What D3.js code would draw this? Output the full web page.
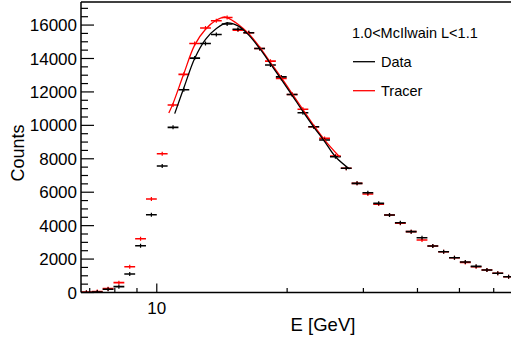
<!DOCTYPE html>
<html>
<head>
<meta charset="utf-8">
<script src="https://cdn.jsdelivr.net/npm/d3@7"></script>
<style>
  html, body { margin: 0; padding: 0; background: #fff; }
  svg { display: block; font-family: "Liberation Sans", Arial, Helvetica, sans-serif; }
</style>
</head>
<body>
<svg id="chart" width="511" height="339"></svg>
<script>
// ---- Data ----
const binEdges = [6.683, 7.079, 7.499, 7.943, 8.414, 8.913, 9.441, 10.000, 10.593, 11.220,
  11.885, 12.589, 13.335, 14.125, 14.962, 15.849, 16.788, 17.783, 18.836, 19.953,
  21.135, 22.387, 23.714, 25.119, 26.607, 28.184, 29.854, 31.623, 33.497, 35.481,
  37.584, 39.811, 42.170, 44.668, 47.315, 50.119, 53.088, 56.234, 59.566, 63.096, 66.834];

const dataCounts = [0, 30, 190, 350, 1105, 2800, 4655, 7570, 9880, 12130,
  14025, 14900, 15440, 16060, 15750, 15540, 14600, 13610, 12900, 11850,
  10755, 9920, 9120, 8120, 7430, 6530, 5970, 5335, 4635, 4175,
  3640, 3280, 2780, 2440, 2080, 1825, 1565, 1345, 1150, 945];

const tracerCounts = [20, 60, 230, 590, 1545, 3220, 5590, 8300, 11215, 13050,
  14900, 15820, 16260, 16450, 15700, 15540, 14600, 13840, 12810, 11850,
  10960, 9920, 9220, 8160, 7430, 6530, 5890, 5290, 4635, 4140,
  3640, 3140, 2780, 2440, 2080, 1800, 1545, 1345, 1150, 945];

// fitted curves (energy, counts)
const dataFitE = [11.0, 11.55, 12.23, 12.96, 13.73, 14.54, 15.40, 16.31, 17.28, 18.31, 19.39, 20.54, 21.76, 23.05, 24.42, 25.86, 27.86];
const dataFitC = [10700, 12250, 14000, 15150, 15800, 16130, 15950, 15400, 14600, 13680, 12750, 11800, 10820, 9900, 9030, 8120, 7390];

const tracerFitE = [10.66, 10.90, 11.55, 12.23, 12.96, 13.73, 14.30, 14.54, 15.40, 16.31, 17.28, 18.31, 19.39, 20.54, 21.76, 23.05, 24.42, 26.42];
const tracerFitC = [10740, 11300, 13100, 14800, 15750, 16300, 16480, 16450, 16050, 15480, 14680, 13760, 12850, 11900, 10940, 9990, 9120, 8120];

const yTickValues = [0, 2000, 4000, 6000, 8000, 10000, 12000, 14000, 16000];
const xMajorTicks = [10];
const xMinorTicks = [7, 8, 9, 20, 30, 40, 50, 60];

const legendTitle = "1.0<McIlwain L<1.1";
const seriesNames = ["Data", "Tracer"];
const seriesColors = ["#000000", "#ff0000"];
const xTitle = "E [GeV]";
const yTitle = "Counts";

// ---- Layout ----
(function () {
const svg = d3.select("#chart");
const pL = 81, pR = 514, pT = 2, pB = 292.5;
const x = d3.scaleLog().domain([binEdges[0], binEdges[binEdges.length - 1]]).range([pL, pR]);
const y = d3.scaleLinear().domain([0, 17380]).range([pB, pT]);

svg.append("defs").append("clipPath").attr("id", "clip")
  .append("rect").attr("x", pL).attr("y", pT).attr("width", 511 - pL).attr("height", pB - pT);

const plot = svg.append("g").attr("clip-path", "url(#clip)");

function drawPoints(counts, color) {
  const g = plot.append("g");
  counts.forEach((c, i) => {
    const lo = binEdges[i], hi = binEdges[i + 1];
    const xc = x(Math.sqrt(lo * hi));
    g.append("line")
      .attr("x1", x(lo)).attr("x2", x(hi))
      .attr("y1", y(c)).attr("y2", y(c))
      .attr("stroke", color).attr("stroke-width", 1.6);
    g.append("line")
      .attr("x1", xc).attr("x2", xc)
      .attr("y1", y(c) - 2).attr("y2", y(c) + 2)
      .attr("stroke", color).attr("stroke-width", 1.2);
  });
}
drawPoints(tracerCounts, seriesColors[1]);
drawPoints(dataCounts, seriesColors[0]);

const line = d3.line().x(d => x(d[0])).y(d => y(d[1])).curve(d3.curveCatmullRom.alpha(0.5));
plot.append("path")
  .attr("d", line(tracerFitE.map((e, i) => [e, tracerFitC[i]])))
  .attr("fill", "none").attr("stroke", seriesColors[1]).attr("stroke-width", 1.3);
plot.append("path")
  .attr("d", line(dataFitE.map((e, i) => [e, dataFitC[i]])))
  .attr("fill", "none").attr("stroke", seriesColors[0]).attr("stroke-width", 1.3);

const axes = svg.append("g").attr("stroke", "#000");
axes.append("line").attr("x1", pL).attr("x2", 511).attr("y1", pB).attr("y2", pB).attr("stroke-width", 1.5);
axes.append("line").attr("x1", pL).attr("x2", pL).attr("y1", pT).attr("y2", pB).attr("stroke-width", 1.5);
axes.append("line").attr("x1", pL).attr("x2", 511).attr("y1", pT).attr("y2", pT).attr("stroke-width", 1.5);

const yMinor = d3.range(0, 17380, 500).filter(v => v % 2000 !== 0);
yMinor.forEach(v => {
  axes.append("line").attr("x1", pL).attr("x2", pL + 7).attr("y1", y(v)).attr("y2", y(v)).attr("stroke-width", 1.2);
});
yTickValues.forEach(v => {
  axes.append("line").attr("x1", pL).attr("x2", pL + 13).attr("y1", y(v)).attr("y2", y(v)).attr("stroke-width", 1.2);
  svg.append("text").attr("x", 77).attr("y", y(v)).attr("dy", "0.36em")
    .attr("text-anchor", "end").attr("font-size", 17).attr("fill", "#000").text(v);
});

xMinorTicks.forEach(v => {
  axes.append("line").attr("x1", x(v)).attr("x2", x(v)).attr("y1", pB).attr("y2", pB - 4.5).attr("stroke-width", 1.2);
});
xMajorTicks.forEach(v => {
  axes.append("line").attr("x1", x(v)).attr("x2", x(v)).attr("y1", pB).attr("y2", pB - 9).attr("stroke-width", 1.2);
  svg.append("text").attr("x", x(v)).attr("y", 314)
    .attr("text-anchor", "middle").attr("font-size", 17).attr("fill", "#000").text(v);
});

svg.append("text").attr("x", 323).attr("y", 331).attr("text-anchor", "middle")
  .attr("font-size", 18.5).attr("fill", "#000").text(xTitle);
svg.append("text").attr("transform", "translate(24,153) rotate(-90)").attr("text-anchor", "middle")
  .attr("font-size", 18).attr("fill", "#000").text(yTitle);

svg.append("text").attr("x", 352).attr("y", 38).attr("font-size", 14.5).attr("fill", "#000").text(legendTitle);
const legY = [61.7, 90.7];
seriesNames.forEach((name, i) => {
  svg.append("line").attr("x1", 353).attr("x2", 375).attr("y1", legY[i]).attr("y2", legY[i])
    .attr("stroke", seriesColors[i]).attr("stroke-width", 1.3);
  svg.append("text").attr("x", 381).attr("y", legY[i] + 5.2).attr("font-size", 14.5).attr("fill", "#000").text(name);
});
})();
</script>
</body>
</html>
